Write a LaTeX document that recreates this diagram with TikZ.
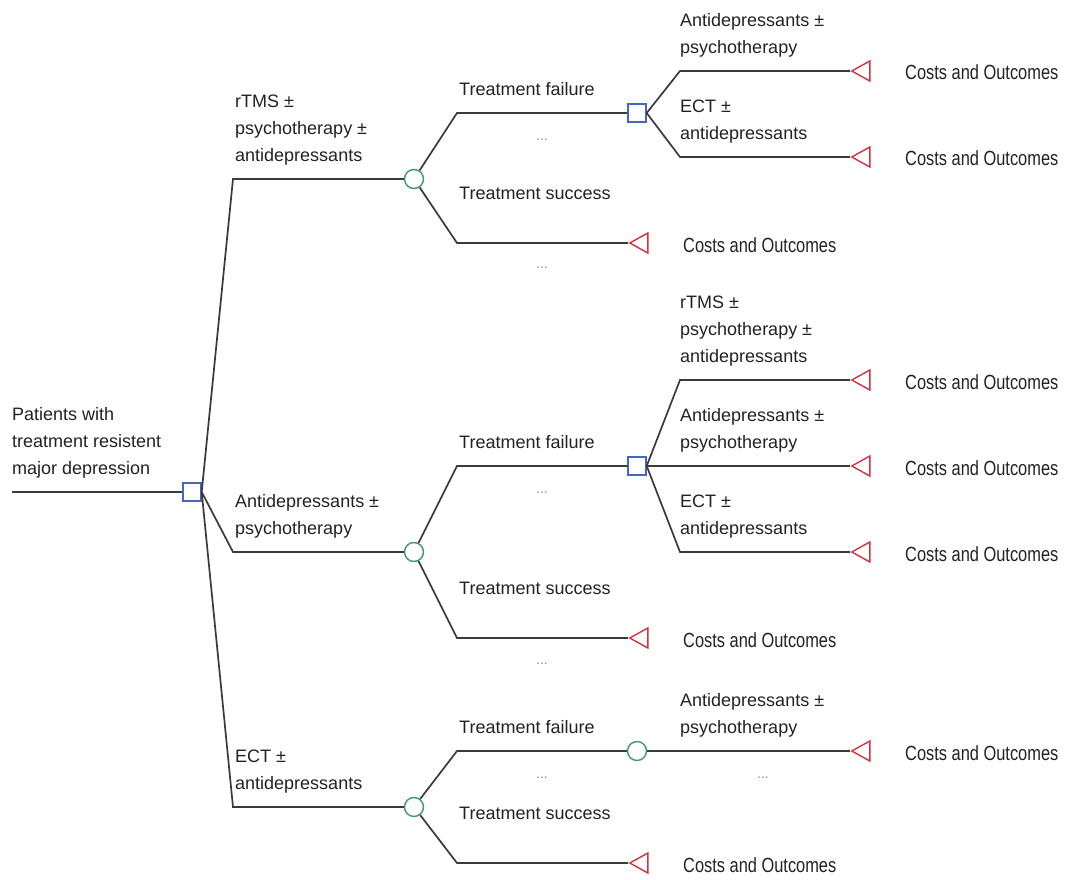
\documentclass[tikz,border=0pt]{standalone}
\usepackage{fontspec}
\setmainfont{Liberation Sans}
\newfontfamily\costfont{Liberation Sans}[FakeStretch=0.8]
\usetikzlibrary{shapes.geometric}
\definecolor{decblue}{HTML}{4566BF}
\definecolor{chgreen}{HTML}{3C9A6A}
\definecolor{termred}{HTML}{D2323F}
\definecolor{linegrey}{HTML}{3A3A3A}
\definecolor{txtgrey}{HTML}{222222}
\definecolor{dotgrey}{HTML}{8A8A8A}

\begin{document}
\begin{tikzpicture}[x=1pt, y=-1pt,
  branch/.style={draw=linegrey, line width=1.7pt},
  decision/.style={rectangle, draw=decblue, line width=1.4pt, fill=white, minimum size=18pt, inner sep=0pt},
  chance/.style={circle, draw=chgreen, line width=1.4pt, fill=white, minimum size=19pt, inner sep=0pt},
  terminal/.style={isosceles triangle, isosceles triangle stretches, shape border rotate=180, draw=termred, line width=1.4pt, minimum height=18pt, minimum width=20pt, inner sep=0pt, anchor=apex},
  lbl/.style={anchor=south west, inner sep=0pt, align=left, text=txtgrey, font=\fontsize{18}{27}\selectfont},
  cost/.style={anchor=base west, inner sep=0pt, text=txtgrey, font=\costfont\fontsize{20.5}{24}\selectfont},
  prob/.style={text=dotgrey, inner sep=0pt, font=\fontsize{14}{16}\selectfont}]
\useasboundingbox (0,0) rectangle (1066,880);

\coordinate (start) at (12,492);
\node[decision] (d0) at (192,492) {};
\coordinate (e1) at (233,179);
\coordinate (e2) at (233,552);
\coordinate (e3) at (233,807);
\node[chance] (c1) at (414,179) {};
\node[chance] (c2) at (414,552) {};
\node[chance] (c3) at (414,807) {};
\coordinate (f1) at (457,113);
\coordinate (f2) at (457,243);
\coordinate (f3) at (457,466);
\coordinate (f4) at (457,638);
\coordinate (f5) at (457,751);
\coordinate (f6) at (457,863);
\node[decision] (d1) at (637,113) {};
\node[decision] (d2) at (637,466) {};
\node[chance] (c4) at (637,751) {};
\node[terminal] (t1) at (628,243) {};
\node[terminal] (t2) at (628,638) {};
\node[terminal] (t3) at (628,863) {};
\coordinate (g1) at (680,71);
\coordinate (g2) at (680,157);
\coordinate (g3) at (680,380);
\coordinate (g4) at (680,466);
\coordinate (g5) at (680,552);
\coordinate (g6) at (680,751);
\node[terminal] (t4) at (850,71) {};
\node[terminal] (t5) at (850,157) {};
\node[terminal] (t6) at (850,380) {};
\node[terminal] (t7) at (850,466) {};
\node[terminal] (t8) at (850,552) {};
\node[terminal] (t9) at (850,751) {};

\draw[branch] (start) -- (d0);
\draw[branch] (d0.east) -- (e1) -- (c1);
\draw[branch] (d0.east) -- (e2) -- (c2);
\draw[branch] (d0.east) -- (e3) -- (c3);
\draw[branch] (c1) -- (f1) -- (d1);
\draw[branch] (c1) -- (f2) -- (t1.apex);
\draw[branch] (c2) -- (f3) -- (d2);
\draw[branch] (c2) -- (f4) -- (t2.apex);
\draw[branch] (c3) -- (f5) -- (c4);
\draw[branch] (c3) -- (f6) -- (t3.apex);
\draw[branch] (d1.east) -- (g1) -- (t4.apex);
\draw[branch] (d1.east) -- (g2) -- (t5.apex);
\draw[branch] (d2.east) -- (g3) -- (t6.apex);
\draw[branch] (d2.east) -- (t7.apex);
\draw[branch] (d2.east) -- (g5) -- (t8.apex);
\draw[branch] (c4) -- (t9.apex);

\node[lbl] (l0) at ([yshift=9pt]start) {Patients with\\treatment resistent\\major depression\strut};
\node[lbl] (l1) at ([xshift=2pt,yshift=9pt]e1) {rTMS ±\\psychotherapy ±\\antidepressants\strut};
\node[lbl] (l2) at ([xshift=2pt,yshift=9pt]e2) {Antidepressants ±\\psychotherapy\strut};
\node[lbl] (l3) at ([xshift=2pt,yshift=9pt]e3) {ECT ±\\antidepressants\strut};
\node[lbl] (l4) at ([xshift=2pt,yshift=9pt]f1) {Treatment failure\strut};
\node[lbl] (l5) at ([xshift=2pt,yshift=35.5pt]f2) {Treatment success\strut};
\node[lbl] (l6) at ([xshift=2pt,yshift=9pt]f3) {Treatment failure\strut};
\node[lbl] (l7) at ([xshift=2pt,yshift=35.5pt]f4) {Treatment success\strut};
\node[lbl] (l8) at ([xshift=2pt,yshift=9pt]f5) {Treatment failure\strut};
\node[lbl] (l9) at ([xshift=2pt,yshift=35.5pt]f6) {Treatment success\strut};
\node[lbl] (l10) at ([yshift=9pt]g1) {Antidepressants ±\\psychotherapy\strut};
\node[lbl] (l11) at ([yshift=9pt]g2) {ECT ±\\antidepressants\strut};
\node[lbl] (l12) at ([yshift=9pt]g3) {rTMS ±\\psychotherapy ±\\antidepressants\strut};
\node[lbl] (l13) at ([yshift=9pt]g4) {Antidepressants ±\\psychotherapy\strut};
\node[lbl] (l14) at ([yshift=9pt]g5) {ECT ±\\antidepressants\strut};
\node[lbl] (l15) at ([yshift=9pt]g6) {Antidepressants ±\\psychotherapy\strut};

\node[cost] (o1) at ([xshift=55pt,yshift=-9pt]t1.apex) {Costs and Outcomes};
\node[cost] (o2) at ([xshift=55pt,yshift=-9pt]t2.apex) {Costs and Outcomes};
\node[cost] (o3) at ([xshift=55pt,yshift=-9pt]t3.apex) {Costs and Outcomes};
\node[cost] (o4) at ([xshift=55pt,yshift=-9pt]t4.apex) {Costs and Outcomes};
\node[cost] (o5) at ([xshift=55pt,yshift=-9pt]t5.apex) {Costs and Outcomes};
\node[cost] (o6) at ([xshift=55pt,yshift=-9pt]t6.apex) {Costs and Outcomes};
\node[cost] (o7) at ([xshift=55pt,yshift=-9pt]t7.apex) {Costs and Outcomes};
\node[cost] (o8) at ([xshift=55pt,yshift=-9pt]t8.apex) {Costs and Outcomes};
\node[cost] (o9) at ([xshift=55pt,yshift=-9pt]t9.apex) {Costs and Outcomes};

\node[prob] (p1) at (542,140) {...};
\node[prob] (p2) at (542,268) {...};
\node[prob] (p3) at (542,493) {...};
\node[prob] (p4) at (542,664) {...};
\node[prob] (p5) at (542,778) {...};
\node[prob] (p6) at (763,778) {...};
\end{tikzpicture}
\end{document}
